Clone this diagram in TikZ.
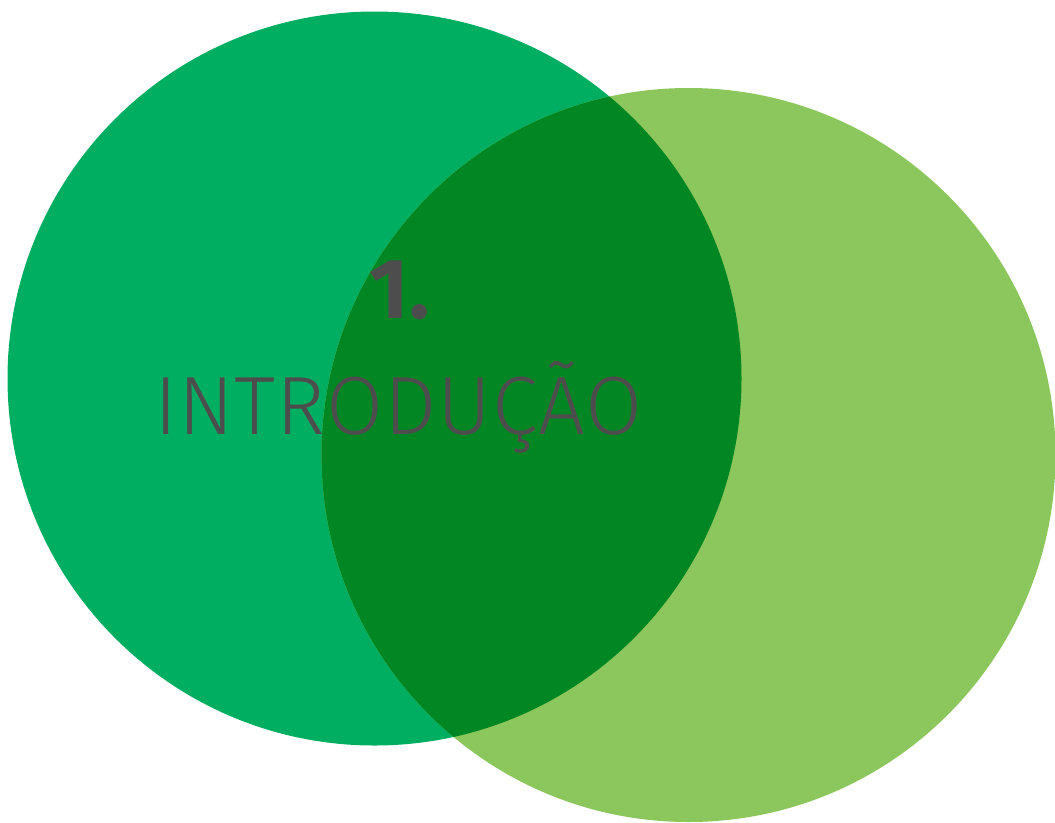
\documentclass[tikz,border=0pt]{standalone}
\usepackage{fontspec}
\setmainfont{Fira Sans}
\newfontfamily\titlethin[LetterSpace=1.2]{Fira Sans Light}
\definecolor{leftgreen}{RGB}{0,174,98}
\definecolor{rightgreen}{RGB}{139,199,92}
\definecolor{bothgreen}{RGB}{0,135,35}
\definecolor{titlegray}{RGB}{77,77,77}

\begin{document}
\begin{tikzpicture}[x=0.75pt,y=0.75pt,yscale=-1,xscale=1]
\useasboundingbox (0,0) rectangle (1055,822);

%Shape: Circle [left]
\fill [color=leftgreen] (374.5,378.5) circle (367);
%Shape: Circle [right]
\fill [color=rightgreen] (688.5,455) circle (367);
%Shape: Circle [overlap]
\begin{scope}
\clip (374.5,378.5) circle (367);
\fill [color=bothgreen] (688.5,455) circle (367);
\end{scope}

% Text Node
\draw (400,318) node [anchor=base][inner sep=0pt,color=titlegray] (num) {\fontsize{64}{64}\selectfont\bfseries 1.};
% Text Node
\draw (398.5,434) node [anchor=base][inner sep=0pt,color=titlegray] (title) {\fontsize{62}{62}\titlethin INTRODUÇÃO};

\end{tikzpicture}
\end{document}
